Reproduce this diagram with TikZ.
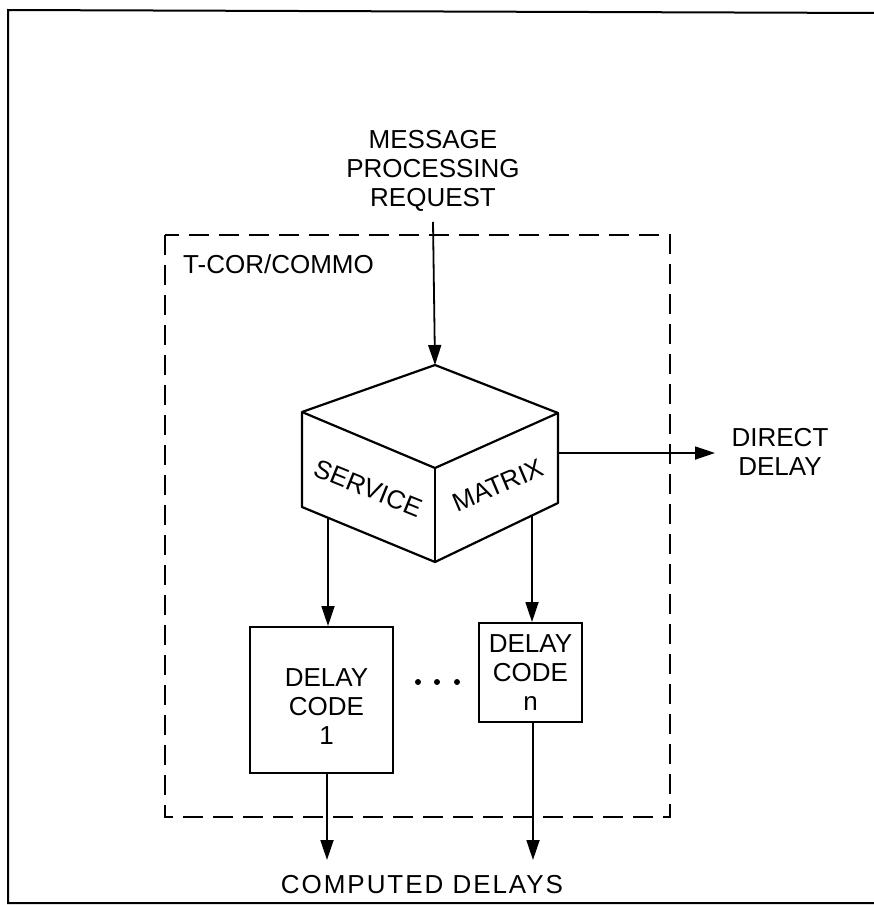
\documentclass[tikz,border=0pt]{standalone}
\usepackage{fontspec}
\setmainfont{Liberation Sans}
\usetikzlibrary{arrows.meta}
\begin{document}
\begin{tikzpicture}[x=1pt,y=-1pt,
  lbl/.style={font=\fontsize{26}{29}\selectfont, inner sep=0pt, align=center},
  arr/.style={line width=1.8pt, -{Triangle[length=20pt,width=13pt]}},
  codebox/.style={draw, line width=2pt, inner sep=0pt, align=center, font=\fontsize{26}{29}\selectfont},
  frame/.style={line width=2pt},
  dashbox/.style={line width=1.8pt, dash pattern=on 20pt off 10pt},
  cube/.style={line width=2.2pt, line join=round},
  dot/.style={fill, circle, inner sep=0pt, minimum size=6pt}]
\useasboundingbox (0,0) rectangle (874,905);
% outer frame
\draw[frame] (880,13) -- (8,10) -- (8,903) -- (880,903);
% dashed subsystem box
\draw[dashbox] (165,235) rectangle (670,817);
\node[lbl, anchor=base west] (tcor) at (183,273) {T-COR/COMMO};
% request label
\node[lbl, anchor=north] (req) at (433,130.4) {MESSAGE\\PROCESSING\\REQUEST};
% cube
\coordinate (T) at (435,365);
\coordinate (L) at (302,412);
\coordinate (R) at (558,413);
\coordinate (F) at (435,468);
\coordinate (LB) at (302,507);
\coordinate (RB) at (558,503);
\coordinate (FB) at (435,562);
\draw[cube] (T) -- (L) -- (LB) -- (FB) -- (RB) -- (R) -- cycle;
\draw[cube] (L) -- (F) -- (R);
\draw[cube] (F) -- (FB);
\node[lbl, rotate=-22] (service) at (368,488) {SERVICE};
\node[lbl, rotate=23] (matrix) at (498,485) {MATRIX};
\coordinate (s1) at (328,518);
\coordinate (sn) at (532,515);
\coordinate (sd) at (558,453);
% delay code boxes
\node[codebox, minimum width=143pt, minimum height=146pt,
      label={[lbl, xshift=5pt, yshift=-7pt]center:DELAY\\CODE\\1}] (box1) at (321.5,700) {};
\node[codebox, minimum width=103pt, minimum height=99pt] (boxn) at (530.5,672.5) {DELAY\\CODE\\n};
\node[dot] (d1) at (418,682) {};
\node[dot] (d2) at (437,682) {};
\node[dot] (d3) at (457,682) {};
% outputs
\node[lbl, anchor=north] (direct) at (780,428.4) {DIRECT\\DELAY};
\node[lbl, anchor=base, font=\fontsize{26}{29}\selectfont\addfontfeature{LetterSpace=7.5}] (computed) at (422,893) {COMPUTED DELAYS};
\coordinate (e1) at (327,860);
\coordinate (en) at (533,860);
\coordinate (ed) at (715,453);
% connectors
\draw[arr] ([yshift=-10pt]req.south) -- (T);
\draw[arr] (sd) -- (ed);
\draw[arr] (s1) -- (s1 |- box1.north);
\draw[arr] (sn) -- (sn |- boxn.north);
\draw[arr] (e1 |- box1.south) -- (e1);
\draw[arr] (en |- boxn.south) -- (en);
\end{tikzpicture}
\end{document}
